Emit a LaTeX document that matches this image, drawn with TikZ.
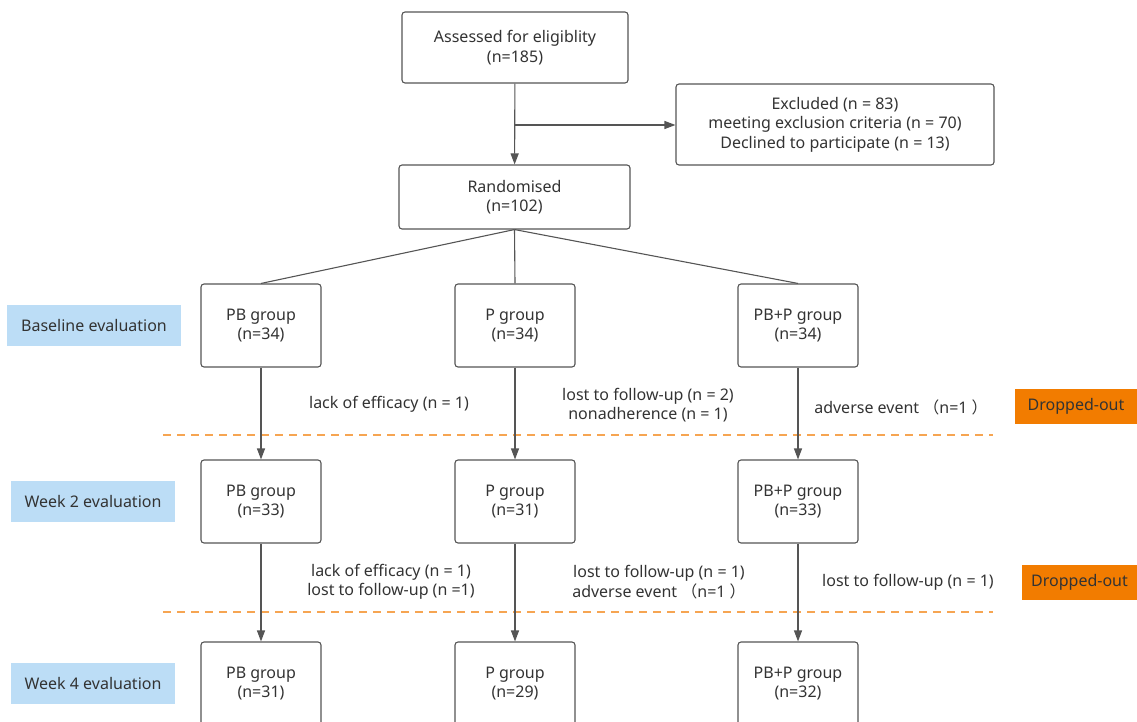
\documentclass[tikz,border=0pt]{standalone}
\usepackage{fontspec}
\setmainfont{Noto Sans}
\newfontfamily\cjk{Noto Sans CJK SC}
\usetikzlibrary{arrows.meta}
\definecolor{txt}{HTML}{333333}
\definecolor{edge}{HTML}{555555}
\definecolor{lblue}{HTML}{BCDDF6}
\definecolor{dorange}{HTML}{F27C00}
\definecolor{lorange}{HTML}{F6A552}
\tikzset{
  every node/.style={font=\fontsize{16}{19.5}\selectfont, text=txt},
  box/.style={draw=edge, rounded corners=3pt, line width=1.1pt, fill=white, align=center, inner sep=0pt},
  grp/.style={box, minimum width=120pt, minimum height=83pt},
  stage/.style={fill=lblue, minimum width=174pt, minimum height=41pt, inner sep=0pt},
  drop/.style={fill=dorange, minimum height=35pt, inner sep=0pt},
  lbl/.style={align=center, inner sep=0pt},
  arr/.style={draw=edge, line width=1.1pt, -{Triangle[length=11pt,width=8pt]}},
  plain/.style={draw=edge, line width=1.1pt},
  orangedash/.style={draw=lorange, line width=1.3pt, dash pattern=on 8pt off 6pt}
}
\begin{document}
\begin{tikzpicture}[x=1pt,y=-1pt]
\useasboundingbox (0,0) rectangle (1137,722);
% top
\node[box, minimum width=226pt, minimum height=71pt] (assess) at (515,47.5) {Assessed for eligiblity\\(n=185)};
\node[box, minimum width=318pt, minimum height=81pt] (excl) at (835,124.5) {Excluded (n = 83)\\meeting exclusion criteria (n = 70)\\Declined to participate (n = 13)};
\node[box, minimum width=231pt, minimum height=64pt] (rand) at (514.5,197) {Randomised\\(n=102)};
\coordinate (br) at (515,125);
\draw[arr] (assess) -- (rand);
\draw[arr] (br) -- (br -| excl.west);
% row 1
\node[grp] (pb1) at (261,325.5) {PB group\\(n=34)};
\node[grp] (p1) at (515,325.5) {P group\\(n=34)};
\node[grp] (pbp1) at (798,325.5) {PB+P group\\(n=34)};
\draw[plain] (rand.south) -- (pb1.north);
\draw[plain] (rand.south) -- (p1.north);
\draw[plain] (rand.south) -- (pbp1.north);
% row 2
\node[grp] (pb2) at (261,501.5) {PB group\\(n=33)};
\node[grp] (p2) at (515,501.5) {P group\\(n=31)};
\node[grp] (pbp2) at (798,501.5) {PB+P group\\(n=33)};
% row 3
\node[grp] (pb3) at (261,683.5) {PB group\\(n=31)};
\node[grp] (p3) at (515,683.5) {P group\\(n=29)};
\node[grp] (pbp3) at (798,683.5) {PB+P group\\(n=32)};
% dashed separators
\draw[orangedash] (163,435) -- (993,435);
\draw[orangedash] (163,612) -- (993,612);
% arrows
\draw[arr] (pb1) -- (pb2);
\draw[arr] (p1) -- (p2);
\draw[arr] (pbp1) -- (pbp2);
\draw[arr] (pb2) -- (pb3);
\draw[arr] (p2) -- (p3);
\draw[arr] (pbp2) -- (pbp3);
% stage labels
\node[stage] (s1) at (94,325.5) {Baseline evaluation};
\node[stage, minimum width=164pt] (s2) at (93,501.5) {Week 2 evaluation};
\node[stage, minimum width=164pt] (s3) at (93,683) {Week 4 evaluation};
% dropped-out
\node[drop, minimum width=122pt] (d1) at (1076,406.5) {Dropped-out};
\node[drop, minimum width=115pt] (d2) at (1079.5,582) {Dropped-out};
% reasons
\node[lbl] (r11) at (389,404) {lack of efficacy (n = 1)};
\node[lbl] (r12) at (648,405) {lost to follow-up (n = 2)\\nonadherence (n = 1)};
\node[lbl] (r13) at (901,407) {adverse event {\cjk （}n=1 {\cjk ）}};
\node[lbl] (r21) at (391,582) {lack of efficacy (n = 1)\\lost to follow-up (n =1)};
\node[lbl] (r22) at (659,582) {lost to follow-up (n = 1)\\adverse event {\cjk （}n=1 {\cjk ）}};
\node[lbl] (r23) at (908,582) {lost to follow-up (n = 1)};
\end{tikzpicture}
\end{document}
